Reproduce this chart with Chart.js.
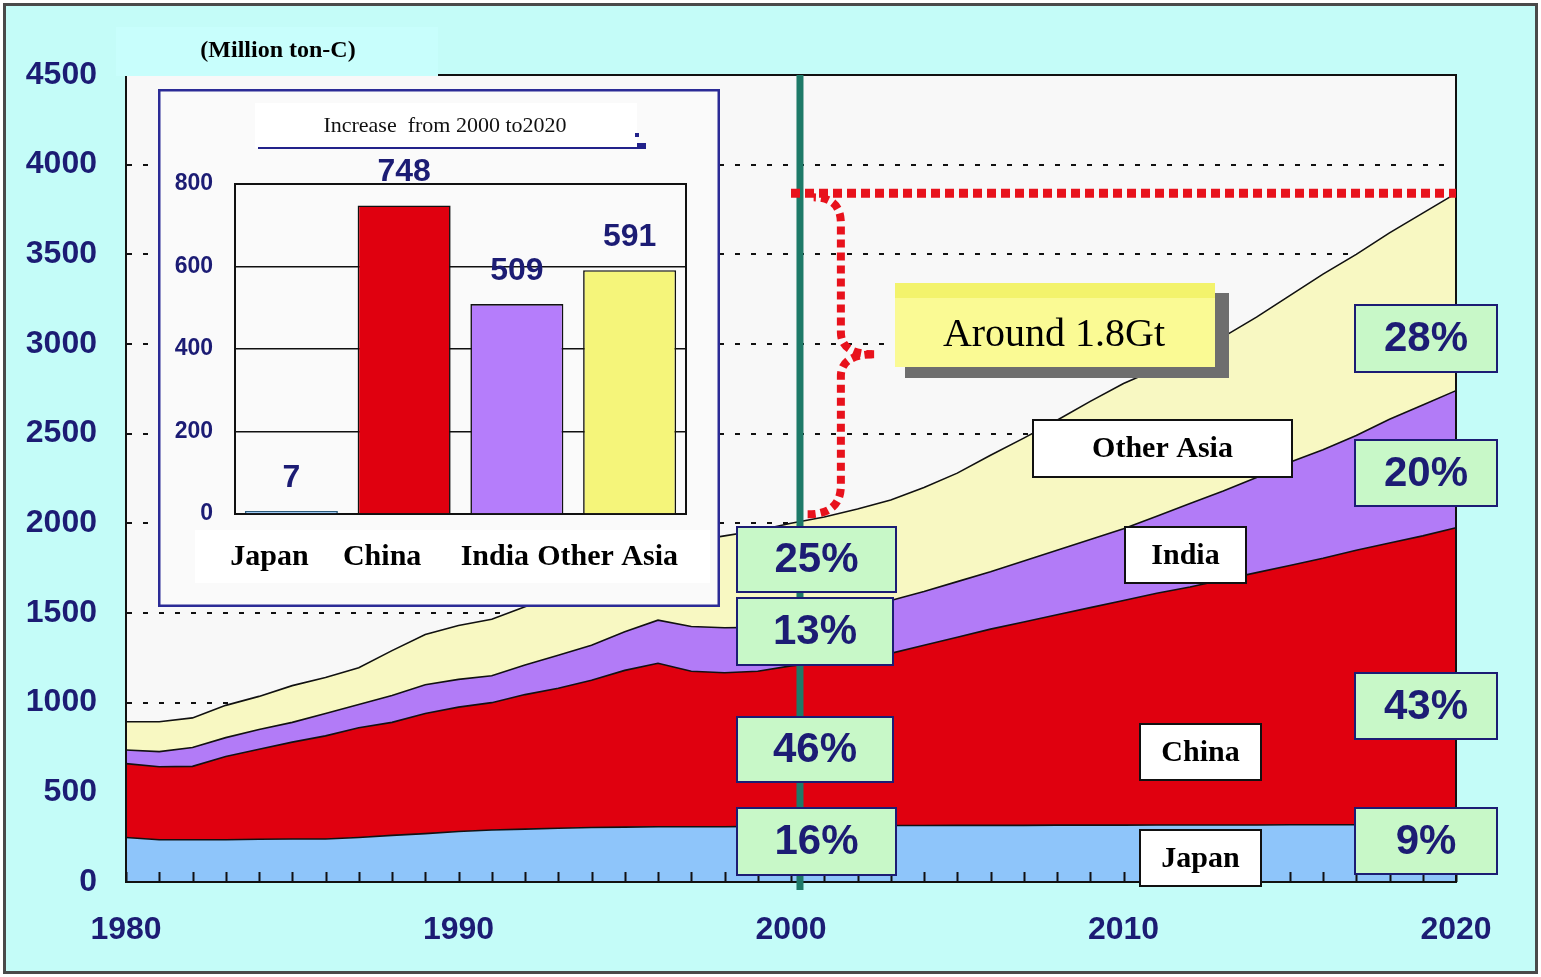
<!DOCTYPE html>
<html>
<head>
<meta charset="utf-8">
<script src="https://cdn.jsdelivr.net/npm/chart.js@4.4.1/dist/chart.umd.min.js"></script>
<style>
html,body{margin:0;padding:0;background:#ffffff;}
#wrap{position:relative;width:1541px;height:977px;overflow:hidden;}
#main{position:absolute;left:0;top:0;width:1541px;height:977px;}
#inset{position:absolute;left:158px;top:89px;width:562px;height:518px;}
</style>
</head>
<body>
<div id="wrap">
<canvas id="main" width="1541" height="977"></canvas>
<canvas id="inset" width="562" height="518"></canvas>
</div>
<script>
// ---------------- data ----------------
const years = [1980,1981,1982,1983,1984,1985,1986,1987,1988,1989,1990,1991,1992,1993,1994,1995,1996,1997,1998,1999,2000,
               2001,2002,2003,2004,2005,2006,2007,2008,2009,2010,2011,2012,2013,2014,2015,2016,2017,2018,2019,2020];
const japan = [248,236,236,236,238,240,240,248,260,270,282,290,295,300,304,306,308,308,308,310,312,
               313,314,315,315,316,316,316,317,317,317,318,318,318,318,319,319,319,320,320,320];
const china = [412,407,409,464,502,540,575,612,630,670,693,710,750,780,821,874,912,867,859,865,893,
               912,936,960,1005,1049,1094,1134,1173,1213,1253,1292,1327,1367,1407,1446,1486,1531,1570,1610,1655];
const india = [76,84,105,105,110,110,125,130,150,160,155,150,165,185,195,215,240,250,251,245,235,
               255,275,295,300,310,320,340,360,380,400,430,465,495,530,575,605,640,690,730,765];
const otherAsia = [158,167,165,180,185,205,200,205,250,280,300,315,325,335,370,385,400,475,512,540,560,
               555,555,560,580,605,650,685,725,770,810,820,840,860,895,930,980,1010,1040,1070,1100];
const seriesNames = ['Japan','China','India','Other Asia'];
const xTickYears = [1980,1990,2000,2010,2020];
const yTickStep = 500;
const yMax = 4500;
const share2000 = ['25%','13%','46%','16%'];   // Other Asia, India, China, Japan
const share2020 = ['28%','20%','43%','9%'];
const unitLabel = '(Million ton-C)';
const braceLabel = 'Around 1.8Gt';
const insetTitle = 'Increase  from 2000 to2020';
const insetCategories = ['Japan','China','India','Other Asia'];
const insetIncrease = [7,748,509,591];
const insetMax = 800;
const insetStep = 200;

// ---------------- styles ----------------
const SANS = '"Liberation Sans", Arial, sans-serif';
const SERIF = '"Liberation Serif", "Times New Roman", serif';
const NAVY = '#1c1c74';
const COL_JAPAN = '#8EC5FA', COL_CHINA = '#E0000F', COL_INDIA = '#B27BF7', COL_OTHER = '#F8F8C2';
Chart.defaults.font.family = SANS;

function box(ctx, x, y, w, h, fill, stroke, lw) {
  ctx.fillStyle = fill; ctx.fillRect(x, y, w, h);
  ctx.lineWidth = lw; ctx.strokeStyle = stroke; ctx.strokeRect(x, y, w, h);
}
function boxText(ctx, x, y, w, h, fill, stroke, lw, text, font, color) {
  box(ctx, x, y, w, h, fill, stroke, lw);
  ctx.font = font; ctx.fillStyle = color; ctx.textAlign = 'center'; ctx.textBaseline = 'middle';
  ctx.fillText(text, x + w / 2, y + h / 2 + 1);
}

const mainPlugin = {
  id: 'mainDeco',
  beforeDraw(chart) {
    const {ctx, chartArea: a, width, height} = chart;
    ctx.save();
    ctx.fillStyle = '#ffffff'; ctx.fillRect(0, 0, width, height);
    ctx.fillStyle = '#C4FCF8'; ctx.fillRect(4, 4, width - 8, height - 8);
    ctx.lineWidth = 3; ctx.strokeStyle = '#4a4a4a'; ctx.strokeRect(4.5, 4.5, width - 9, height - 9);
    ctx.fillStyle = '#F8F8F8'; ctx.fillRect(a.left, a.top, a.right - a.left, a.bottom - a.top);
    ctx.restore();
  },
  afterDatasetsDraw(chart) {
    const {ctx, chartArea: a} = chart;
    const xs = chart.scales.x, ys = chart.scales.y;
    ctx.save();
    // plot frame
    ctx.strokeStyle = '#111'; ctx.lineWidth = 2;
    ctx.strokeRect(a.left, a.top, a.right - a.left, a.bottom - a.top);
    // yearly ticks (inward)
    ctx.beginPath();
    years.forEach((yr, i) => {
      const px = Math.round(xs.getPixelForValue(i)) + 0.5;
      ctx.moveTo(px, a.bottom); ctx.lineTo(px, a.bottom - 10);
    });
    ctx.lineWidth = 2; ctx.stroke();

    // teal marker line just after 2000
    const i2000 = years.indexOf(2000);
    const tealX = xs.getPixelForValue(i2000 + 0.27);
    ctx.strokeStyle = '#1E7A68'; ctx.lineWidth = 7;
    ctx.beginPath(); ctx.moveTo(tealX, a.top); ctx.lineTo(tealX, a.bottom + 8); ctx.stroke();

    // totals
    const last = years.length - 1;
    const total2020 = japan[last] + china[last] + india[last] + otherAsia[last];
    const total2000 = japan[i2000] + china[i2000] + india[i2000] + otherAsia[i2000];
    const yT = ys.getPixelForValue(total2020);
    const yB = ys.getPixelForValue(total2000);
    ctx.strokeStyle = '#E8121C';
    ctx.lineCap = 'butt';
    // horizontal red dotted line
    ctx.lineWidth = 9; ctx.setLineDash([9, 5]);
    ctx.beginPath(); ctx.moveTo(xs.getPixelForValue(i2000), yT); ctx.lineTo(a.right, yT); ctx.stroke();
    // brace
    const x0 = xs.getPixelForValue(i2000 + 0.5);
    const xb = xs.getPixelForValue(i2000 + 1.5);
    const xp = xs.getPixelForValue(i2000 + 2.5);
    const mid = (yT + yB) / 2 - 4;
    ctx.lineWidth = 8; ctx.setLineDash([8, 5]);
    ctx.beginPath();
    ctx.moveTo(x0, yB - 9);
    ctx.quadraticCurveTo(xb, yB - 9, xb, yB - 38);
    ctx.lineTo(xb, mid + 22);
    ctx.quadraticCurveTo(xb, mid, xp, mid);
    ctx.stroke();
    ctx.beginPath();
    ctx.moveTo(xp, mid);
    ctx.quadraticCurveTo(xb, mid, xb, mid - 22);
    ctx.lineTo(xb, yT + 30);
    ctx.quadraticCurveTo(xb, yT + 4, x0 + 6, yT + 4);
    ctx.stroke();
    ctx.setLineDash([]);

    // "Around 1.8Gt" callout
    ctx.fillStyle = '#6e6e6e'; ctx.fillRect(905, 293, 324, 85);
    ctx.fillStyle = '#FAFA94'; ctx.fillRect(895, 283, 320, 84);
    ctx.fillStyle = '#F3F36C'; ctx.fillRect(895, 283, 320, 15);
    ctx.fillStyle = '#000'; ctx.font = '40px ' + SERIF; ctx.textAlign = 'center'; ctx.textBaseline = 'middle';
    ctx.fillText(braceLabel, 1054, 335);

    // series name boxes
    const nameFont = 'bold 30px ' + SERIF;
    boxText(ctx, 1033, 420, 259, 57, '#fff', '#111', 2, seriesNames[3], nameFont, '#000');
    boxText(ctx, 1125, 527, 121, 56, '#fff', '#111', 2, seriesNames[2], nameFont, '#000');
    boxText(ctx, 1140, 724, 121, 56, '#fff', '#111', 2, seriesNames[1], nameFont, '#000');
    boxText(ctx, 1140, 830, 121, 56, '#fff', '#111', 2, seriesNames[0], nameFont, '#000');

    // share boxes
    const pf = 'bold 42px ' + SANS, pfill = '#C8F8C8';
    boxText(ctx, 737, 527, 159, 65, pfill, NAVY, 2, share2000[0], pf, NAVY);
    boxText(ctx, 737, 598, 156, 67, pfill, NAVY, 2, share2000[1], pf, NAVY);
    boxText(ctx, 737, 717, 156, 65, pfill, NAVY, 2, share2000[2], pf, NAVY);
    boxText(ctx, 737, 808, 159, 67, pfill, NAVY, 2, share2000[3], pf, NAVY);
    boxText(ctx, 1355, 305, 142, 67, pfill, NAVY, 2, share2020[0], pf, NAVY);
    boxText(ctx, 1355, 440, 142, 66, pfill, NAVY, 2, share2020[1], pf, NAVY);
    boxText(ctx, 1355, 673, 142, 66, pfill, NAVY, 2, share2020[2], pf, NAVY);
    boxText(ctx, 1355, 808, 142, 66, pfill, NAVY, 2, share2020[3], pf, NAVY);
    ctx.restore();
  },
  afterDraw(chart) {
    const {ctx} = chart;
    ctx.save();
    ctx.fillStyle = '#C8FEFC'; ctx.fillRect(116, 27, 322, 49);
    ctx.fillStyle = '#000'; ctx.font = 'bold 24px ' + SERIF; ctx.textAlign = 'center'; ctx.textBaseline = 'middle';
    ctx.fillText(unitLabel, 278, 51);
    ctx.restore();
  }
};

const mainChart = new Chart(document.getElementById('main'), {
  type: 'line',
  data: {
    labels: years.map(String),
    datasets: [
      {label: seriesNames[0], data: japan, fill: 'origin', backgroundColor: COL_JAPAN},
      {label: seriesNames[1], data: china, fill: '-1', backgroundColor: COL_CHINA},
      {label: seriesNames[2], data: india, fill: '-1', backgroundColor: COL_INDIA},
      {label: seriesNames[3], data: otherAsia, fill: '-1', backgroundColor: COL_OTHER}
    ].map(d => Object.assign(d, {borderColor: '#111', borderWidth: 1.6, pointRadius: 0, tension: 0}))
  },
  options: {
    responsive: false, animation: false, devicePixelRatio: 1,
    layout: {padding: {top: 75, right: 85, left: 0, bottom: 0}},
    plugins: {legend: {display: false}, tooltip: {enabled: false}},
    scales: {
      x: {
        type: 'category', offset: false,
        grid: {display: false, drawTicks: false},
        border: {display: true, color: '#111', width: 2},
        ticks: {
          autoSkip: false, maxRotation: 0, minRotation: 0, padding: 29,
          color: NAVY, font: {size: 32, weight: 'bold', family: SANS},
          callback: (v, i) => xTickYears.includes(years[i]) ? String(years[i]) : ''
        },
        afterFit: s => { s.height = 95; }
      },
      y: {
        stacked: true, min: 0, max: yMax,
        grid: {color: '#111', lineWidth: 2, drawTicks: false},
        border: {display: true, color: '#111', width: 2, dash: [5, 11]},
        ticks: {stepSize: yTickStep, padding: 29, color: NAVY, font: {size: 32, weight: 'bold', family: SANS},
                callback: v => String(v)},
        afterFit: s => { s.width = 126; }
      }
    }
  },
  plugins: [mainPlugin]
});

// ---------------- inset bar chart ----------------
const insetPlugin = {
  id: 'insetDeco',
  beforeDraw(chart) {
    const {ctx, width, height} = chart;
    ctx.save();
    ctx.fillStyle = '#FAFAFA'; ctx.fillRect(0, 0, width, height);
    ctx.fillStyle = '#FFFFFF'; ctx.fillRect(37, 441, 515, 53);
    ctx.fillRect(97, 14, 382, 45);
    ctx.strokeStyle = '#2B2B96'; ctx.lineWidth = 2.5; ctx.strokeRect(1.25, 1.25, width - 2.5, height - 2.5);
    ctx.fillStyle = '#111'; ctx.font = '22px ' + SERIF; ctx.textAlign = 'center'; ctx.textBaseline = 'middle';
    ctx.fillText(insetTitle, 287, 37);
    ctx.strokeStyle = '#22228A'; ctx.lineWidth = 2;
    ctx.beginPath(); ctx.moveTo(100, 59); ctx.lineTo(487, 59); ctx.stroke();
    ctx.fillStyle = '#22228A'; ctx.fillRect(479, 54, 9, 6); ctx.fillRect(477, 44, 4, 4);
    ctx.restore();
  },
  beforeDatasetsDraw(chart) {
    const {ctx, chartArea: a} = chart;
    ctx.save(); ctx.strokeStyle = '#111'; ctx.lineWidth = 2;
    ctx.strokeRect(a.left, a.top, a.right - a.left, a.bottom - a.top);
    ctx.restore();
  },
  afterDatasetsDraw(chart) {
    const {ctx} = chart;
    const meta = chart.getDatasetMeta(0);
    ctx.save();
    ctx.fillStyle = NAVY; ctx.font = 'bold 32px ' + SANS; ctx.textAlign = 'center'; ctx.textBaseline = 'middle';
    meta.data.forEach((bar, i) => ctx.fillText(String(insetIncrease[i]), bar.x, bar.y - 33));
    ctx.restore();
  }
};

new Chart(document.getElementById('inset'), {
  type: 'bar',
  data: {
    labels: insetCategories,
    datasets: [{
      data: insetIncrease,
      backgroundColor: [COL_JAPAN, COL_CHINA, '#B57DFB', '#F5F57A'],
      borderColor: ['#2a5a7a', '#111', '#111', '#111'],
      borderWidth: 1.6,
      barPercentage: 0.825, categoryPercentage: 1
    }]
  },
  options: {
    responsive: false, animation: false, devicePixelRatio: 1,
    layout: {padding: {top: 95, right: 34, left: 0, bottom: 0}},
    plugins: {legend: {display: false}, tooltip: {enabled: false}},
    scales: {
      x: {
        grid: {display: false, drawTicks: false},
        border: {display: true, color: '#111', width: 2},
        ticks: {autoSkip: false, maxRotation: 0, minRotation: 0, padding: 25, labelOffset: -22, color: '#000',
                font: {size: 30, weight: 'bold', family: SERIF}},
        afterFit: s => { s.height = 93; s.paddingLeft = 0; s.paddingRight = 0; }
      },
      y: {
        min: 0, max: insetMax,
        grid: {color: '#111', lineWidth: 1.5, drawTicks: false},
        border: {display: true, color: '#111', width: 2},
        ticks: {stepSize: insetStep, padding: 22, color: NAVY, font: {size: 23, weight: 'bold', family: SANS}},
        afterFit: s => { s.width = 77; }
      }
    }
  },
  plugins: [insetPlugin]
});
</script>
</body>
</html>
